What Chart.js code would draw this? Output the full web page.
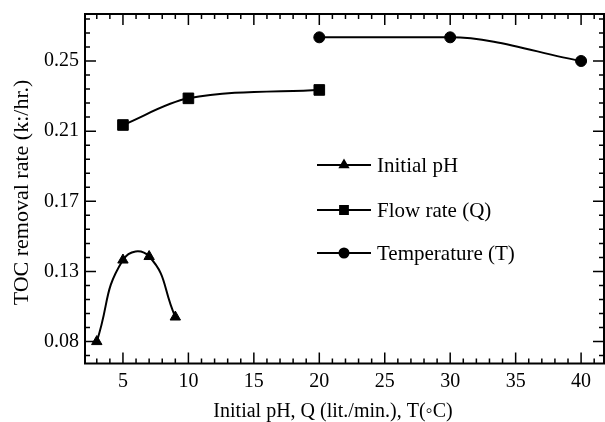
<!DOCTYPE html>
<html>
<head>
<meta charset="utf-8">
<script src="https://cdn.jsdelivr.net/npm/chart.js@4/dist/chart.umd.min.js"></script>
<style>
  html, body { margin: 0; padding: 0; background: #fff; }
  canvas { display: block; }
</style>
</head>
<body>
<canvas id="chart" width="605" height="422"></canvas>
<script>
/* DATA */
const phX = [3, 5, 7, 9];
const phY = [0.085, 0.1315, 0.1335, 0.099];

const qX = [5, 10, 20];
const qY = [0.2085, 0.2237, 0.2285];

const tempX = [20, 30, 40];
const tempY = [0.2585, 0.2585, 0.245];

const seriesNames = ["Initial pH", "Flow rate (Q)", "Temperature (T)"];
const xTitle = "Initial pH, Q (lit./min.), T(\u25E6C)";
const yTitle = "TOC removal rate (k:/hr.)";

const xTickValues = [5, 10, 15, 20, 25, 30, 35, 40];
const yTickValues = [0.085, 0.125, 0.165, 0.205, 0.245];
const yTickLabels = ["0.08", "0.13", "0.17", "0.21", "0.25"];

/* HELPERS */
const FONT = "'Liberation Serif', 'Times New Roman', serif";
const pts = (xs, ys) => xs.map((x, i) => ({ x, y: ys[i] }));

// minor ticks
const xMinor = [];
for (let v = 3; v <= 42; v++) xMinor.push(v);
const yMinor = [];
for (let v = 0.077; v <= 0.2705; v += 0.008) yMinor.push(v);

/* PLUGINS */
const frameTicks = {
  id: "frameTicks",
  afterDatasetsDraw(chart) {
    const { ctx, chartArea: a, scales: { x, y } } = chart;
    ctx.save();
    ctx.strokeStyle = "#000";
    ctx.lineWidth = 1.5;

    const vTick = (px, len) => {
      ctx.moveTo(px, a.bottom); ctx.lineTo(px, a.bottom - len);
      ctx.moveTo(px, a.top); ctx.lineTo(px, a.top + len);
    };
    const hTick = (py, len) => {
      ctx.moveTo(a.left, py); ctx.lineTo(a.left + len, py);
      ctx.moveTo(a.right, py); ctx.lineTo(a.right - len, py);
    };

    ctx.beginPath();
    xMinor.forEach(v => {
      const px = x.getPixelForValue(v);
      if (px > a.left + 1 && px < a.right - 1) vTick(px, 5);
    });
    xTickValues.forEach(v => vTick(x.getPixelForValue(v), 11));
    yMinor.forEach(v => {
      const py = y.getPixelForValue(v);
      if (py > a.top + 1 && py < a.bottom - 1) hTick(py, 5);
    });
    yTickValues.forEach(v => hTick(y.getPixelForValue(v), 11));
    ctx.stroke();

    ctx.lineWidth = 2;
    ctx.strokeRect(a.left, a.top, a.right - a.left, a.bottom - a.top);
    ctx.restore();
  }
};

const axisTitles = {
  id: "axisTitles",
  afterDraw(chart) {
    const { ctx } = chart;
    ctx.save();
    ctx.fillStyle = "#000";
    ctx.textAlign = "center";
    ctx.textBaseline = "alphabetic";
    ctx.font = "20px " + FONT;
    ctx.fillText(xTitle, 333, 416.5);
    ctx.translate(27.5, 192.5);
    ctx.rotate(-Math.PI / 2);
    ctx.font = "22px " + FONT;
    ctx.fillText(yTitle, 0, 0);
    ctx.restore();
  }
};

const insideLegend = {
  id: "insideLegend",
  afterDatasetsDraw(chart) {
    const { ctx } = chart;
    const x0 = 317, x1 = 371;
    const rows = [165, 210, 253];
    ctx.save();
    chart.data.datasets.forEach((ds, i) => {
      const yy = rows[i];
      ctx.strokeStyle = "#000";
      ctx.lineWidth = 2;
      ctx.beginPath();
      ctx.moveTo(x0, yy); ctx.lineTo(x1, yy);
      ctx.stroke();
      ctx.fillStyle = "#000";
      Chart.helpers.drawPoint(ctx, {
        pointStyle: ds.pointStyle,
        radius: ds.pointStyle === "rect" ? 5.5 : 4.5,
        rotation: 0,
        borderWidth: 1
      }, (x0 + x1) / 2, yy);
      ctx.fillStyle = "#000";
      ctx.font = "21px " + FONT;
      ctx.textBaseline = "middle";
      ctx.textAlign = "left";
      ctx.fillText(seriesNames[i], x1 + 6, yy + 1);
    });
    ctx.restore();
  }
};

/* CHART */
const lineSet = (label, data, style, radius, extra) => Object.assign({
  label,
  data,
  borderColor: "#000",
  backgroundColor: "#000",
  borderWidth: 2,
  pointStyle: style,
  pointRadius: radius,
  pointBorderWidth: 1,
  pointBackgroundColor: "#000",
  pointBorderColor: "#000",
  showLine: true,
  fill: false
}, extra);

new Chart(document.getElementById("chart"), {
  type: "scatter",
  data: {
    datasets: [
      lineSet(seriesNames[0], pts(phX, phY), "triangle", 6, { tension: 0.5 }),
      lineSet(seriesNames[1], pts(qX, qY), "rect", 7.5, { cubicInterpolationMode: "monotone" }),
      lineSet(seriesNames[2], pts(tempX, tempY), "circle", 5.5, { cubicInterpolationMode: "monotone" })
    ]
  },
  options: {
    responsive: false,
    animation: false,
    layout: { autoPadding: false, padding: { top: 14, right: 1, bottom: 0, left: 0 } },
    plugins: {
      legend: { display: false },
      tooltip: { enabled: false }
    },
    scales: {
      x: {
        type: "linear",
        min: 2.1,
        max: 41.75,
        grid: { display: false, drawTicks: false },
        border: { display: false },
        afterBuildTicks: s => { s.ticks = xTickValues.map(v => ({ value: v })); },
        afterFit: s => { s.height = 58.5; s.paddingLeft = 0; s.paddingRight = 0; },
        ticks: {
          color: "#000",
          font: { family: FONT, size: 20 },
          padding: 6,
          maxRotation: 0,
          autoSkip: false
        },
        title: { display: false }
      },
      y: {
        type: "linear",
        min: 0.0725,
        max: 0.2718,
        grid: { display: false, drawTicks: false },
        border: { display: false },
        afterBuildTicks: s => { s.ticks = yTickValues.map(v => ({ value: v })); },
        afterFit: s => { s.width = 85; s.paddingTop = 0; s.paddingBottom = 0; },
        ticks: {
          color: "#000",
          font: { family: FONT, size: 20 },
          padding: 6,
          autoSkip: false,
          callback: (v, i) => yTickLabels[i]
        },
        title: { display: false }
      }
    }
  },
  plugins: [frameTicks, insideLegend, axisTitles]
});
</script>
</body>
</html>
